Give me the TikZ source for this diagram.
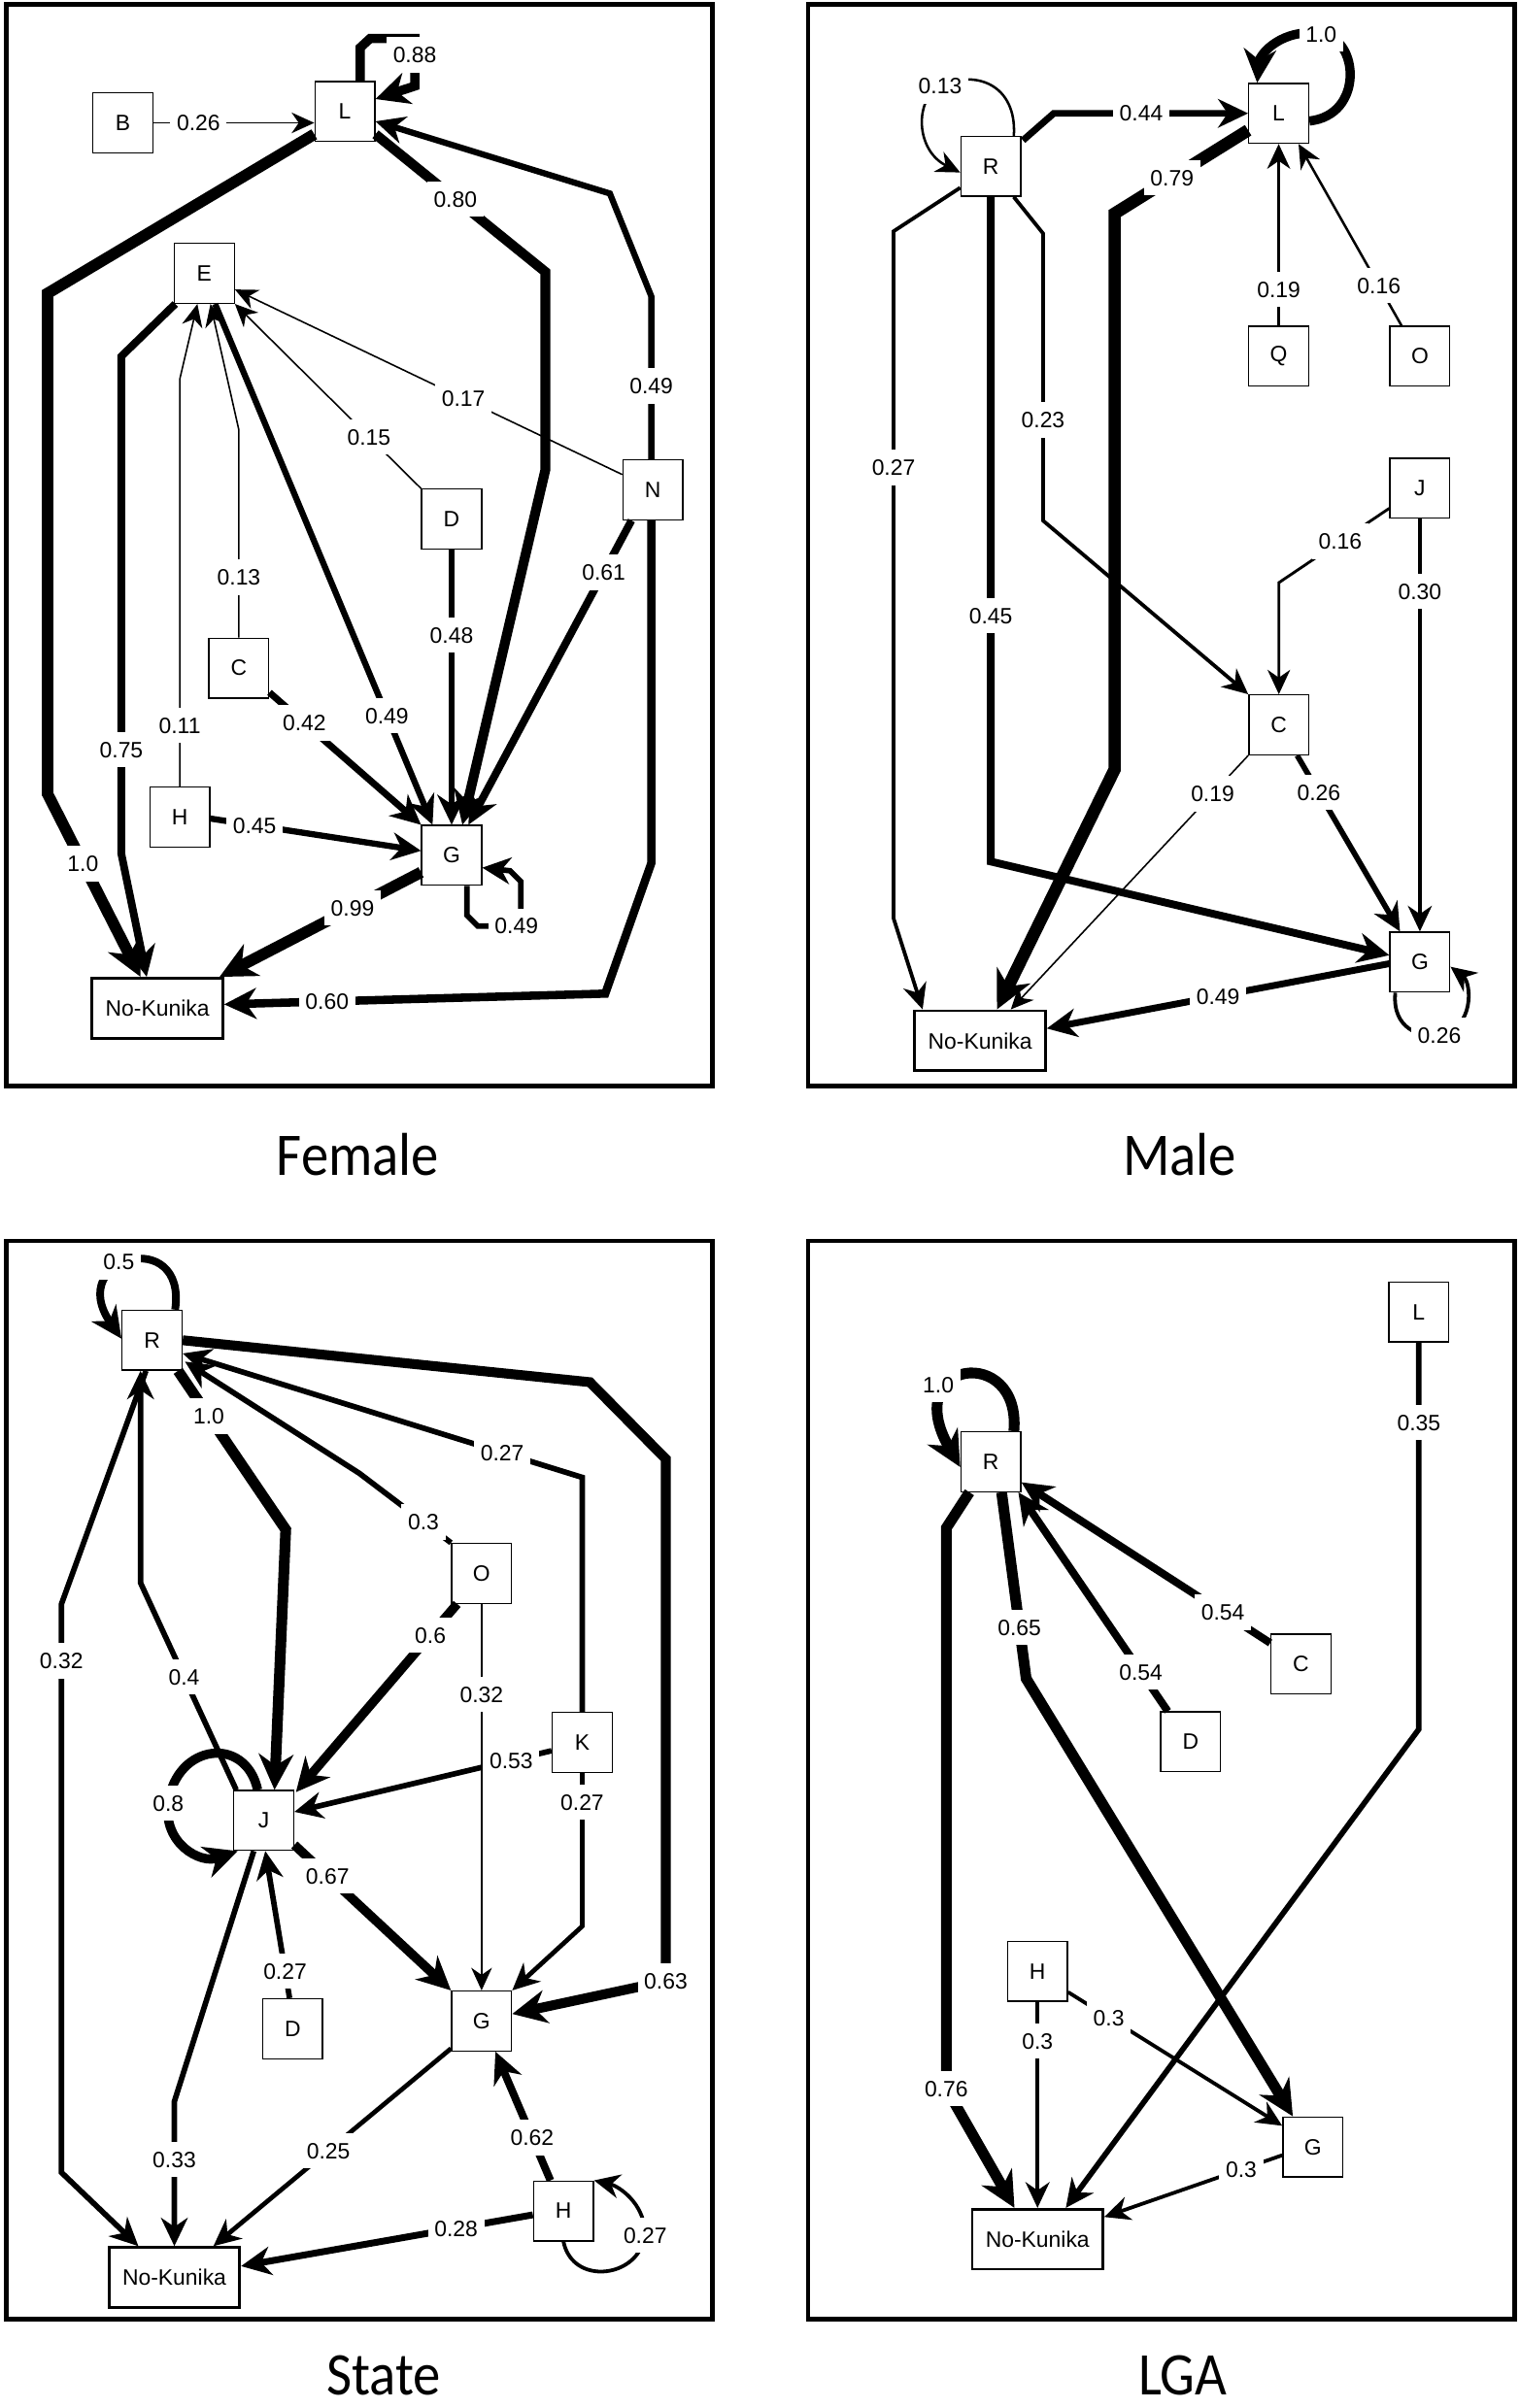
\documentclass[tikz,border=0pt]{standalone}
\usepackage{fontspec}
\setmainfont{Liberation Sans}
\newfontfamily\titlefont{Carlito}
\usetikzlibrary{arrows.meta,calc}
\begin{document}
\begin{tikzpicture}[x=0.25mm,y=-0.25mm,
  nd/.style={draw, line width=0.6pt, minimum width=9.75mm, minimum height=9.75mm, inner sep=0pt, fill=white, font=\fontsize{10.3}{12}\selectfont},
  nkbox/.style={draw, line width=1.3pt, minimum width=21.25mm, minimum height=9.75mm, inner sep=0pt, fill=white, font=\fontsize{10.3}{12}\selectfont},
  frm/.style={draw, line width=2.2pt},
  lbl/.style={fill=white, inner xsep=3pt, inner ysep=4.5pt, text height=7.4pt, text depth=0pt, font=\fontsize{10.3}{12}\selectfont},
  cn/.style={draw, line width=#1, -{Stealth[length=9.5pt 1.4, width=8.5pt 1.5, inset=3pt 0.45]}},
  ttl/.style={inner sep=0pt, font=\titlefont\fontsize{25.5}{30}\selectfont}
]
\fill[white] (0,0) rectangle (989,1568);
\useasboundingbox (0,0) rectangle (989,1568);

% frames
\draw[frm] (4,3) rectangle (464,707);
\draw[frm] (526,3) rectangle (986,707);
\draw[frm] (4,808) rectangle (464,1510);
\draw[frm] (526,808) rectangle (986,1510);

% titles
\node[ttl] (tF) at (233,752) {\scalebox{1}[1.1]{Female}};
\node[ttl] (tM) at (768,752) {\scalebox{1}[1.1]{Male}};
\node[ttl] (tS) at (250,1547) {\scalebox{1}[1.1]{State}};
\node[ttl] (tL) at (770,1547) {\scalebox{1}[1.1]{LGA}};

% ================= Female =================
\node[nd] (fB) at (80,80) {B};
\node[nd] (fL) at (224.5,72.5) {L};
\node[nd] (fE) at (133,178) {E};
\node[nd] (fD) at (294,338) {D};
\node[nd] (fN) at (425,319) {N};
\node[nd] (fC) at (155.5,435) {C};
\node[nd] (fH) at (117,532) {H};
\node[nd] (fG) at (294,557) {G};
\node[nkbox] (fNK) at (102.5,656.5) {No-Kunika};

\draw[cn=0.25mm] (fB.east) -- (fB.east -| fL.west) node[lbl,pos=0.28]{0.26};
\draw[cn=1.5mm] ($(fL.north)+(10,0)$) -- (234.5,31) -- (241,25) -- (270,25) -- (270,56) node[lbl,pos=0.35]{0.88} -- ($(fL.east)+(0,-8)$);
\draw[cn=1.85mm] ($(fL.south west)+(0,-5)$) -- (31,191) -- (31,517) -- ($(fNK.north)+(-11,0)$) node[lbl,pos=0.38]{1.0};
\draw[cn=1.6mm] ($(fL.south east)+(0,-5)$) -- (355,177) node[lbl,pos=0.47]{0.80} -- (355,306) -- ($(fG.north)+(7,0)$);
\draw[cn=1mm] ($(fN.north)+(-1,0)$) -- (424,193) node[lbl,pos=0.45]{0.49} -- (397,126) -- ($(fL.east)+(0,6.5)$);
\draw[cn=0.25mm] ($(fN.west)+(0,-10)$) -- ($(fE.east)+(0,10.5)$) node[lbl,pos=0.41]{0.17};
\draw[cn=0.25mm] (fD.north west) -- (fE.south east) node[lbl,pos=0.28]{0.15};
\draw[cn=1.25mm] ($(fE.south west)+(1,0)$) -- (79,232) -- (79,556) node[lbl,pos=0.79]{0.75} -- ($(fNK.north)+(-7,0)$);
\draw[cn=0.25mm] (fH.north) -- (117,247) node[lbl,pos=0.15]{0.11} -- ($(fE.south)+(-4.5,0)$);
\draw[cn=0.25mm] (fC.north) -- (155.5,280) node[lbl,pos=0.29]{0.13} -- ($(fE.south)+(4,0)$);
\draw[cn=1mm] ($(fE.south)+(7,0)$) -- ($(fG.north west)+(7.5,0)$) node[lbl,pos=0.79]{0.49};
\draw[cn=1.1mm] (fD.south) -- (fG.north) node[lbl,pos=0.31]{0.48};
\draw[cn=1.25mm] ($(fN.south west)+(6,0)$) -- ($(fG.north east)+(-9,0)$) node[lbl,pos=0.17]{0.61};
\draw[cn=1.1mm] ($(fC.south east)+(0,-4)$) -- (fG.north west) node[lbl,pos=0.23]{0.42};
\draw[cn=1mm] ($(fH.east)+(0,1)$) -- ($(fG.west)+(0,-3)$) node[lbl,pos=0.21]{0.45};
\draw[cn=0.9mm] ($(fG.south)+(10,0)$) -- (304,596) -- (311,603) -- (339,603) node[lbl,pos=0.9]{0.49} -- (339,574) -- (332,567) -- ($(fG.east)+(0,8)$);
\draw[cn=1.85mm] ($(fG.west)+(0,11)$) -- ($(fNK.north east)+(-3,0)$) node[lbl,pos=0.34]{0.99};
\draw[cn=1.35mm] ($(fN.south)+(-1,0)$) -- (424,562) -- (394,647) -- ($(fNK.east)+(0,-2.5)$) node[lbl,pos=0.73]{0.60};

% ================= Male =================
\node[nd] (mR) at (645,108.3) {R};
\node[nd] (mL) at (832.4,73.8) {L};
\node[nd] (mQ) at (832.4,232) {Q};
\node[nd] (mO) at (924.3,232) {O};
\node[nd] (mJ) at (924.3,318) {J};
\node[nd] (mC) at (832.5,472) {C};
\node[nd] (mG) at (924.3,626.5) {G};
\node[nkbox] (mNK) at (638,677.7) {No-Kunika};

\draw[cn=0.4mm] ($(mR.north)+(15,0)$) .. controls (662,55) and (635,45) .. (612,56) node[lbl]{0.13} .. controls (595,65) and (596,98) .. ($(mR.west)+(0,4)$);
\draw[cn=1.1mm] ($(mR.north east)+(1,3)$) -- (686,73.8) -- (mL.west) node[lbl,pos=0.45]{0.44};
\draw[cn=1.5mm] ($(mL.east)+(0,5)$) .. controls (888,75) and (885,25) .. (860,22) node[lbl]{1.0} .. controls (835,18) and (820,35) .. ($(mL.north)+(-14,0)$);
\draw[cn=0.5mm] (mQ.north) -- (mL.south) node[lbl,pos=0.2]{0.19};
\draw[cn=0.4mm] ($(mO.north west)+(8,0)$) -- ($(mL.south east)+(-7,0)$) node[lbl,pos=0.22]{0.16};
\draw[cn=0.6mm] ($(mR.south west)+(0,-6)$) -- (581.7,150.6) -- (581.7,598) node[lbl,pos=0.344]{0.27} -- ($(mNK.north west)+(6,0)$);
\draw[cn=0.6mm] ($(mR.south east)+(-5,0)$) -- (679,152) -- (679,339) node[lbl,pos=0.65]{0.23} -- (mC.north west);
\draw[cn=1.25mm] (mR.south) -- (645,561) node[lbl,pos=0.63]{0.45} -- ($(mG.west)+(0,-4.5)$);
\draw[cn=2mm] ($(mL.west)+(0,11)$) -- (725.6,139) node[lbl,pos=0.57]{0.79} -- (725.6,501) -- ($(mNK.north)+(11,0)$);
\draw[cn=0.45mm] ($(mJ.west)+(0,13)$) -- (832.5,379.4) node[lbl,pos=0.445]{0.16} -- (mC.north);
\draw[cn=0.6mm] (mJ.south) -- (mG.north) node[lbl,pos=0.176]{0.30};
\draw[cn=0.9mm] ($(mC.south east)+(-8,0)$) -- ($(mG.north west)+(7,0)$) node[lbl,pos=0.21]{0.26};
\draw[cn=0.25mm] (mC.south west) -- ($(mNK.north)+(20,0)$) node[lbl,pos=0.15]{0.19};
\draw[cn=1.1mm] ($(mG.west)+(0,1)$) -- ($(mNK.east)+(0,-8)$) node[lbl,pos=0.5]{0.49};
\draw[cn=0.6mm] ($(mG.south)+(-16,0)$) .. controls (906,670) and (925,676) .. (937,674) node[lbl]{0.26} .. controls (960,670) and (958,640) .. ($(mG.east)+(0,3)$);

% ================= State =================
\node[nd] (sR) at (99,872.7) {R};
\node[nd] (sO) at (313.5,1024.5) {O};
\node[nd] (sK) at (379,1134.5) {K};
\node[nd] (sJ) at (171.7,1185.4) {J};
\node[nd] (sD) at (190.5,1321) {D};
\node[nd] (sG) at (313.5,1316) {G};
\node[nd] (sH) at (366.8,1439.7) {H};
\node[nkbox] (sNK) at (113.5,1483) {No-Kunika};

\draw[cn=1.25mm] ($(sR.north)+(15,0)$) .. controls (122,798) and (42,818) .. ($(sR.west)+(0,-1)$);
\node[lbl] (lsR) at (77.4,821.5) {0.5};
\draw[cn=1.75mm] ($(sR.south east)+(-3,0)$) -- (186,996) node[lbl,pos=0.285]{1.0} -- ($(sJ.north)+(7,0)$);
\draw[cn=1.6mm] (sR.east) -- (384,900) -- (433.4,950) -- (433.4,1290) node[lbl]{0.63} -- ($(sG.east)+(0,-4.6)$);
\draw[cn=0.9mm] (sK.north) -- (379,962) -- ($(sR.east)+(0,8.6)$) node[lbl,pos=0.2]{0.27};
\draw[cn=0.9mm] (sO.north west) -- (234,959.4) node[lbl,pos=0.3]{0.3} -- ($(sR.south east)+(1.5,-6)$);
\draw[cn=0.9mm] ($(sR.south)+(-4,0)$) -- (40,1044.5) -- (40,1414.6) node[lbl,pos=0.1]{0.32} -- ($(sNK.north west)+(20,0)$);
\draw[cn=0.9mm] ($(sJ.north west)+(2,0)$) -- (91.5,1030.7) node[lbl,pos=0.545]{0.4} -- ($(sR.south)+(-7.5,0)$);
\draw[cn=1.5mm] ($(sO.south west)+(4,0)$) -- ($(sJ.north east)+(1,1.5)$) node[lbl,pos=0.166]{0.6};
\draw[cn=1.5mm] ($(sJ.north)+(-4,0)$) .. controls (160,1130) and (115,1135) .. (109.5,1174) node[lbl]{0.8} .. controls (106,1200) and (130,1214) .. ($(sJ.south west)+(3,0)$);
\draw[cn=0.9mm] ($(sK.west)+(0,5.5)$) -- ($(sJ.east)+(0,-5.6)$) node[lbl,pos=0.157]{0.53};
\draw[cn=0.25mm] (sO.south) -- (sG.north) node[lbl,pos=0.234]{0.32};
\draw[cn=0.75mm] (sK.south) -- (379,1254.3) node[lbl,pos=0.19]{0.27} -- (sG.north east);
\draw[cn=1.5mm] ($(sJ.south east)+(0,-4)$) -- (sG.north west) node[lbl,pos=0.212]{0.67};
\draw[cn=0.9mm] ($(sD.north)+(-2,0)$) -- ($(sJ.south)+(1,0)$) node[lbl,pos=0.184]{0.27};
\draw[cn=0.9mm] ($(sJ.south)+(-6.5,0)$) -- (113.5,1368.4) -- (sNK.north) node[lbl,pos=0.4]{0.33};
\draw[cn=0.75mm] ($(sG.south west)+(0,-2)$) -- ($(sNK.north east)+(-18,0)$) node[lbl,pos=0.516]{0.25};
\draw[cn=1.25mm] ($(sH.north)+(-8.5,0)$) -- ($(sG.south)+(9,0)$) node[lbl,pos=0.333]{0.62};
\draw[cn=0.6mm] (sH.south) .. controls (372,1485) and (405,1484) .. (416,1466) .. controls (428,1442) and (405,1424) .. (sH.north east);
\node[lbl] (lsH) at (420,1455.3) {0.27};
\draw[cn=1.1mm] ($(sH.west)+(0,2.5)$) -- ($(sNK.east)+(0,-7.4)$) node[lbl,pos=0.263]{0.28};

% ================= LGA =================
\node[nd] (aL) at (923.6,854.3) {L};
\node[nd] (aR) at (645,951.8) {R};
\node[nd] (aC) at (846.8,1083.5) {C};
\node[nd] (aD) at (775.1,1134.2) {D};
\node[nd] (aH) at (675.4,1283.6) {H};
\node[nd] (aG) at (854.6,1398) {G};
\node[nkbox] (aNK) at (675.4,1458.1) {No-Kunika};

\draw[cn=1.75mm] ($(aR.north)+(15,0)$) .. controls (665,875) and (585,885) .. ($(aR.west)+(0,3.5)$);
\node[lbl] (laR) at (610.8,901.5) {1.0};
\draw[cn=0.9mm] (aL.south) -- (923.6,1126) node[lbl,pos=0.207]{0.35} -- ($(aNK.north east)+(-25,0)$);
\draw[cn=1.75mm] ($(aR.south west)+(6,0)$) -- (616,995) -- (616,1360) node[lbl]{0.76} -- ($(aNK.north)+(-15,0)$);
\draw[cn=1.75mm] ($(aR.south)+(7,0)$) -- (668,1093) node[lbl,pos=0.724]{0.65} -- ($(aG.north)+(-13,0)$);
\draw[cn=1.25mm] ($(aD.north west)+(5,0)$) -- ($(aR.south east)+(-2,0)$) node[lbl,pos=0.18]{0.54};
\draw[cn=1.25mm] ($(aC.west)+(0,-13.7)$) -- ($(aR.east)+(0,13.4)$) node[lbl,pos=0.19]{0.54};
\draw[cn=0.6mm] (aH.south) -- (aNK.north) node[lbl,pos=0.19]{0.3};
\draw[cn=0.6mm] ($(aH.east)+(0,13.6)$) -- ($(aG.west)+(0,-13.8)$) node[lbl,pos=0.19]{0.3};
\draw[cn=0.6mm] ($(aG.west)+(0,5.4)$) -- ($(aNK.east)+(0,-14.5)$) node[lbl,pos=0.23]{0.3};
\end{tikzpicture}
\end{document}
